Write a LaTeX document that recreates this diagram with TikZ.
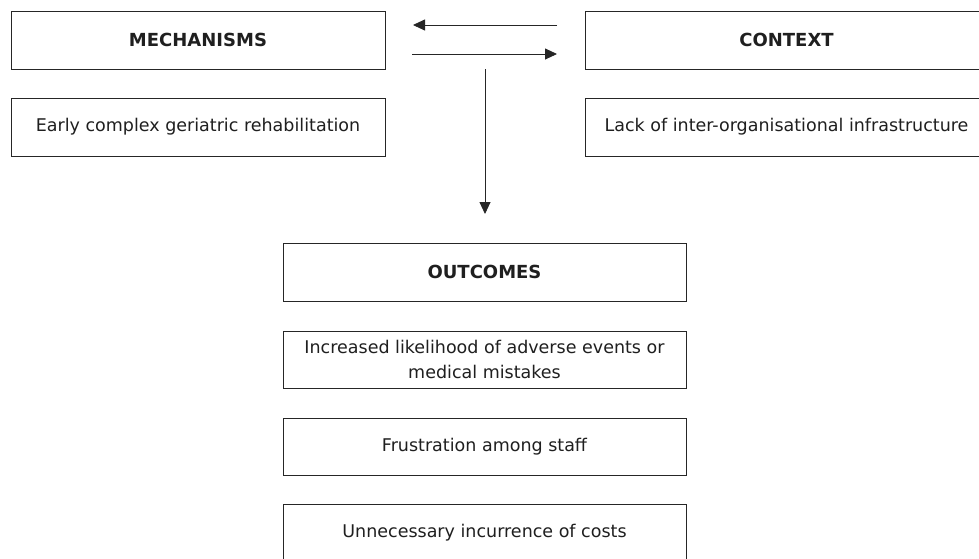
\documentclass[tikz,border=0pt]{standalone}
\usepackage{fontspec}
\setmainfont{DejaVu Sans}
\usetikzlibrary{arrows.meta}
\begin{document}
\begin{tikzpicture}[x=1pt,y=-1pt,
  box/.style={draw=black!85, line width=0.85pt, rectangle, inner sep=0pt,
    minimum height=58pt, align=center, text=black!88,
    font=\fontsize{17.5}{25}\selectfont},
  narrowbox/.style={box, minimum width=374pt},
  widebox/.style={box, minimum width=403pt},
  head/.style={font=\fontsize{18}{25}\selectfont\bfseries},
  link/.style={draw=black!85, line width=0.85pt,
    -{Triangle[length=12pt,width=11pt]}}]
  \clip (0,0) rectangle (979,558);
  \fill[white] (0,0) rectangle (979,558);

  % mechanisms column
  \node[narrowbox, head] (mech) at (198,40) {MECHANISMS};
  \node[narrowbox] (early) at (198,127) {Early complex geriatric rehabilitation};

  % context column
  \node[widebox, head] (ctx) at (786.5,40) {CONTEXT};
  \node[widebox] (lack) at (786.5,127) {Lack of inter-organisational infrastructure};

  % outcomes column
  \node[widebox, head] (out) at (484.5,272) {OUTCOMES};
  \node[widebox, minimum height=57pt] (o1) at (484.5,359.5)
    {Increased likelihood of adverse events or\\medical mistakes};
  \node[widebox, minimum height=57pt] (o2) at (484.5,446.5) {Frustration among staff};
  \node[widebox] (o3) at (484.5,533) {Unnecessary incurrence of costs};

  % free arrow ends between the columns
  \coordinate (ctxR) at (557,25);
  \coordinate (mechL) at (413,25);
  \coordinate (mechR) at (412,54);
  \coordinate (ctxL) at (557,54);
  \coordinate (downA) at (485,69);
  \coordinate (downB) at (485,214);

  \draw[link] (ctxR) -- (mechL);
  \draw[link] (mechR) -- (ctxL);
  \draw[link] (downA) -- (downB);
\end{tikzpicture}
\end{document}
